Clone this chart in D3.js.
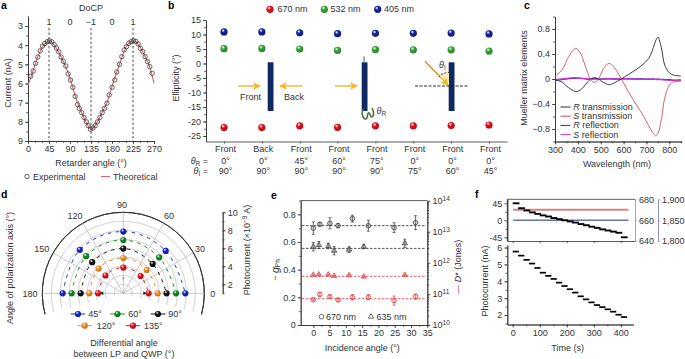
<!DOCTYPE html>
<html>
<head>
<meta charset="utf-8">
<script src="https://cdn.jsdelivr.net/npm/d3@7"></script>
<style>
  body { margin: 0; background: #fff; }
  svg text { font-family: "Liberation Sans", Arial, sans-serif; font-size: 9px; fill: #333; }
  svg .panel { font-size: 10.5px; font-weight: 700; fill: #000; }
  .axis path, .axis line { stroke: #333; stroke-width: .8; }
</style>
</head>
<body>
<svg id="fig" width="685" height="359"></svg>
<script>
// a - DoCP
const aAngle = [6, 11, 16, 21, 26, 31, 36, 41, 46, 51, 56, 61, 66, 71, 76, 81, 86, 91, 96, 101, 106, 110, 115, 120, 125, 129, 134, 139, 144, 149, 154, 159, 164, 169, 174, 180, 186, 190, 196, 201, 206, 211, 216, 221, 226, 231, 236, 241, 246, 251, 256, 261, 266];
const aExp = [5.62, 5.35, 4.95, 4.62, 4.3, 4.05, 3.92, 3.82, 3.78, 3.83, 3.97, 4.15, 4.35, 4.62, 4.85, 5.09, 5.5, 5.82, 6.2, 6.67, 7.1, 7.3, 7.52, 7.77, 8, 8.2, 8.39, 8.32, 8.2, 8, 7.77, 7.52, 7.3, 7.03, 6.6, 6.2, 5.82, 5.4, 5, 4.6, 4.25, 4.08, 3.9, 3.82, 3.77, 3.8, 3.94, 4.17, 4.34, 4.6, 4.86, 5.12, 5.47];
const aTheoryAngle = [0, 10, 20, 30, 40, 45, 50, 60, 70, 80, 90, 100, 110, 120, 130, 135, 140, 150, 160, 170, 180, 190, 200, 210, 220, 225, 230, 240, 250, 260, 270];
const aTheory = [6.1, 5.4, 4.68, 4.12, 3.85, 3.78, 3.83, 4.12, 4.58, 5.08, 5.72, 6.55, 7.25, 7.78, 8.25, 8.42, 8.3, 7.95, 7.45, 6.95, 6.15, 5.42, 4.72, 4.1, 3.83, 3.78, 3.8, 4.1, 4.55, 5.08, 6];
const aXTicks = [0, 45, 90, 135, 180, 225, 270];
const aDash = [45, 135, 225];
const aDoCPAngle = [45, 90, 135, 180, 225];
const aDoCP = ['1', '0', '−1', '0', '1'];

// b - ellipticity
const bBlue = [10.9, 10.9, 10.6, 10.3, 10.4, 10.4, 10.5, 10.2];
const bGreen = [5.1, 5.2, 5, 4.5, 4.8, 4.7, 4.7, 4.3];
const bRed = [-22.1, -22.1, -21.5, -22, -21.5, -21.5, -21.4, -21.2];
const bFace = ['Front', 'Back', 'Front', 'Front', 'Front', 'Front', 'Front', 'Front'];
const bThetaR = ['0°', '0°', '45°', '60°', '75°', '0°', '0°', '0°'];
const bThetaI = ['90°', '90°', '90°', '90°', '90°', '75°', '60°', '45°'];
const bLegend = ['670 nm', '532 nm', '405 nm'];

// c - Mueller matrix
const cWave = [300, 330, 360, 390, 410, 440, 460, 475, 490, 510, 535, 560, 590, 620, 650, 680, 710, 730, 740, 750, 765, 780, 800, 820, 850];
const cRTrans = [-0.01, -0.05, -0.14, -0.2, -0.18, -0.06, 0.01, 0.02, 0, -0.05, -0.09, -0.06, 0, 0.07, 0.14, 0.22, 0.33, 0.5, 0.61, 0.67, 0.5, 0.22, 0.1, 0.06, 0.05];
const cSTrans = [0.05, 0.14, 0.36, 0.49, 0.42, 0.13, -0.03, -0.05, 0, 0.15, 0.25, 0.18, 0, -0.2, -0.38, -0.55, -0.75, -0.87, -0.91, -0.87, -0.65, -0.3, -0.1, -0.04, -0.03];
const cRRefl = [-0.02, -0.01, 0.005, 0.01, 0.015, 0, 0, 0.01, 0, 0, 0.005, 0, 0, 0.005, 0, 0, -0.005, 0, -0.005, -0.01, -0.005, -0.01, -0.01, -0.02, -0.015];
const cSRefl = [-0.01, 0, 0.015, 0.02, 0.01, 0.005, 0, 0, -0.005, 0, 0, 0, 0.005, 0, 0, -0.005, 0, -0.005, -0.005, 0, -0.01, -0.015, -0.02, -0.025, -0.03];

// d - polar plot
const dAngle = [180, 135, 90, 45, 0];
const dDeg45 = [7.74, 7.83, 7.86, 7.66, 7.89];
const dDeg60 = [6.74, 6.84, 6.92, 6.63, 6.86];
const dDeg90 = [5.74, 5.89, 5.97, 5.61, 5.81];
const dDeg120 = [4.78, 4.88, 4.92, 4.67, 4.81];
const dDeg135 = [3.81, 3.8, 3.86, 3.72, 3.81];
const dSpokes = [0, 30, 60, 90, 120, 150, 180];
const dSpokeLabelX = [212.7, 200, 169, 122, 75, 41.7, 30];
const dSpokeLabelY = [294.3, 248.5, 216, 205, 216, 249, 294.3];
const dRings = [2, 3, 4, 5, 6, 7, 8, 9, 10];
const dRTicks = [2, 4, 6, 8, 10];

// e - g factor and detectivity
const eAngleC = [0, 2, 5.1, 7.6, 12, 16.9, 24.8, 31.4];
const eAngleT = [0, 1.7, 4.6, 6.4, 11, 15.5, 28.1];
const eGC = [0.7, 0.728, 0.735, 0.718, 0.769, 0.718, 0.704, 0.74];
const eGCErr = [0.045, 0.012, 0.04, 0.015, 0.025, 0.04, 0.035, 0.05];
const eGT = [0.566, 0.578, 0.571, 0.537, 0.545, 0.566, 0.59];
const eGTErr = [0.03, 0.025, 0.02, 0.03, 0.02, 0.015, 0.03];
const eDC = [6.5e10, 9.7e10, 8.2e10, 6.4e10, 7.8e10, 7.9e10, 6.1e10, 8.2e10];
const eDCErr = [1.08, 1.15, 1.1, 1.12, 1.22, 1.2, 1.4, 1.2];
const eDT = [4.1e11, 4.2e11, 4.2e11, 3.8e11, 4e11, 3.6e11, 4.1e11];
const eGMean = [0.718, 0.554];
const eDMean = [3.7e11, 7e10];
const eDTicks = [1e10, 1e11, 1e12, 1e13, 1e14];
const eDExp = ['10', '11', '12', '13', '14'];

// f - angle and photocurrent steps
const fStart = [0, 20, 40, 60, 80, 100, 120, 140, 160, 180, 200, 220, 240, 260, 280, 300, 320, 340, 360, 380, 400];
const fAngle = [45, 32, 26, 21, 17, 13, 10, 6, 3, 0, -3, -6, -10, -13, -17, -20, -24, -27, -30, -33, -45];
const fCurrent = [5.76, 5.52, 5.27, 5.05, 4.79, 4.51, 4.32, 4.14, 3.92, 3.72, 3.53, 3.33, 3.11, 2.93, 2.75, 2.59, 2.47, 2.34, 2.2, 2.02, 1.88];
const fTime = [0, 100, 200, 300, 400];

const svg = d3.select('#fig');
const defs = svg.append('defs');

// shiny balls
const ballCol = { red: '#e3101e', green: '#35a535', blue: '#14249e', dgreen: '#0f8a1c', black: '#111', orange: '#ee9226', dblue: '#1524c8' };
Object.entries(ballCol).forEach(([k, c]) => {
  const g = defs.append('radialGradient').attr('id', 'ball-' + k).attr('cx', '38%').attr('cy', '32%').attr('r', '70%');
  g.append('stop').attr('offset', '0%').attr('stop-color', '#fff').attr('stop-opacity', .85);
  g.append('stop').attr('offset', '35%').attr('stop-color', c);
  g.append('stop').attr('offset', '100%').attr('stop-color', d3.color(c).darker(.7));
});
const ball = (x, y, k, r = 3.6) => svg.append('circle').attr('cx', x).attr('cy', y).attr('r', r).attr('fill', `url(#ball-${k})`);

defs.append('marker').attr('id', 'head').attr('viewBox', '0 0 8 8').attr('refX', 7).attr('refY', 4)
  .attr('markerUnits', 'userSpaceOnUse').attr('markerWidth', 9).attr('markerHeight', 8).attr('orient', 'auto')
  .append('path').attr('d', 'M0,0L8,4L0,8L2,4Z').attr('fill', '#f0b92e');

function axis(maker, scale, tx, ty, major, minor, fmt, size = 3) {
  const g = svg.append('g').attr('class', 'axis').attr('transform', `translate(${tx},${ty})`);
  if (minor) g.append('g').call(maker(scale).tickValues(minor).tickSize(size * .6).tickSizeOuter(0).tickFormat(''));
  g.append('g').call(maker(scale).tickValues(major).tickSize(size).tickSizeOuter(0).tickPadding(2).tickFormat(fmt || ''));
  return g;
}
function label(x, y, s, anchor = 'middle', rot) {
  const t = svg.append('text').attr('text-anchor', anchor).attr('dominant-baseline', 'central');
  if (rot) t.attr('transform', `translate(${x},${y}) rotate(${rot})`); else t.attr('x', x).attr('y', y);
  return t.text(s);
}
[['a', 1, 5], ['b', 168, 5], ['c', 524, 5], ['d', 1, 194], ['e', 271, 195], ['f', 475, 194]].forEach(([s, x, y]) =>
  svg.append('text').attr('class', 'panel').attr('x', x).attr('y', y + 3.5).text(s));

// ---- a ----
const xA = d3.scaleLinear().domain([0, 270]).range([28, 154]);
const yA = d3.scaleLinear().domain([2.48, 9]).range([16, 141]);
axis(d3.axisBottom, xA, 0, 141, aXTicks, d3.range(0, 271, 15), d => d);
axis(d3.axisLeft, yA, 28, 0, d3.range(3, 10), d3.range(3, 9.1, .5), d => d);
aDash.forEach(d => svg.append('line').attr('x1', xA(d)).attr('x2', xA(d)).attr('y1', 28).attr('y2', 141)
  .attr('stroke', '#222').attr('stroke-width', .8).attr('stroke-dasharray', '2.5,2'));
svg.append('path').datum(aTheory)
  .attr('d', d3.line().x((d, i) => xA(aTheoryAngle[i])).y(d => yA(d)).curve(d3.curveCatmullRom))
  .attr('fill', 'none').attr('stroke', '#d9606a').attr('stroke-width', 1.1);
svg.append('g').selectAll('circle').data(aExp).join('circle')
  .attr('cx', (d, i) => xA(aAngle[i])).attr('cy', d => yA(d)).attr('r', 2.2)
  .attr('fill', 'none').attr('stroke', '#333').attr('stroke-width', .75);
aDoCP.forEach((s, i) => label(xA(aDoCPAngle[i]), 21.5, s));
label(91, 8, 'DoCP');
label(8, 83, 'Current (nA)', 'middle', -90);
label(91, 163, 'Retarder angle (°)');
svg.append('circle').attr('cx', 27).attr('cy', 176.5).attr('r', 2.2).attr('fill', 'none').attr('stroke', '#333').attr('stroke-width', .75);
label(33, 176.5, 'Experimental', 'start');
svg.append('line').attr('x1', 101).attr('x2', 110).attr('y1', 176.5).attr('y2', 176.5).attr('stroke', '#d9606a').attr('stroke-width', 1.1);
label(113, 176.5, 'Theoretical', 'start');

// ---- b ----
const xB = d3.scaleLinear().domain([-0.475, 7.475]).range([206, 507]);
const yB = d3.scaleLinear().domain([15, -25]).range([20, 136]);
axis(d3.axisBottom, xB, 0, 141.5, d3.range(8), null, null, 2);
axis(d3.axisLeft, yB.copy().domain([15, -26.9]).range([20, 141.5]), 206, 0, d3.range(15, -26, -5), d3.range(15, -26, -2.5), d => d);
label(176, 78, 'Ellipticity (°)', 'middle', -90);
[[bBlue, 'blue'], [bGreen, 'green'], [bRed, 'red']].forEach(([vals, k]) =>
  vals.forEach((v, i) => ball(xB(i), yB(v), k)));
bFace.forEach((s, i) => label(xB(i) + 1.5, 149, s));
bThetaR.forEach((s, i) => label(xB(i) + 1.5, 160.5, s));
bThetaI.forEach((s, i) => label(xB(i) + 1.5, 171.3, s));
const thLabel = (y, sub) => {
  const t = label(208, y, '', 'end');
  t.append('tspan').attr('font-style', 'italic').text('θ');
  t.append('tspan').attr('dy', 2).style('font-size', '6.5px').text(sub);
  t.append('tspan').attr('dy', -2).text(' =');
};
thLabel(160.5, 'R');
thLabel(171.3, 'I');
[[270, 277.5, 'red'], [324.3, 330.5, 'green'], [377.7, 384, 'blue']].forEach(([bx, tx, k], i) => {
  ball(bx, 9.3, k);
  label(tx, 9.3, bLegend[i], 'start');
});
// device sketches
[267.7, 361.7, 448.7].forEach(x => svg.append('rect').attr('x', x).attr('y', 62.3).attr('width', 5.8).attr('height', 48.7).attr('fill', '#0f2a63'));
const beam = (x1, y1, x2, y2) => svg.append('line').attr('x1', x1).attr('y1', y1).attr('x2', x2).attr('y2', y2)
  .attr('stroke', '#f0b92e').attr('stroke-width', 1.4).attr('marker-end', 'url(#head)');
beam(238, 86, 260, 86);
beam(302.7, 86, 280, 86);
beam(335, 86, 357, 86);
label(250.5, 96.7, 'Front');
label(294, 97.2, 'Back');
svg.append('line').attr('x1', 364).attr('x2', 364).attr('y1', 56.5).attr('y2', 62).attr('stroke', '#222').attr('stroke-width', .8);
svg.append('path').attr('d', 'M363,109C361,114 363,119 366,119C368,119 367,112 369,113C371,114 370,119 373,116C374,114 373,110 372,108')
  .attr('fill', 'none').attr('stroke', '#55703a').attr('stroke-width', 1.6);
const thR = label(376.5, 111, '', 'start');
thR.append('tspan').attr('font-style', 'italic').text('θ');
thR.append('tspan').attr('dy', 2).style('font-size', '6.5px').text('R');
svg.append('path').attr('d', 'M449,86L438.5,77A14,14 0 0 1 449,72.5Z').attr('fill', '#fbe9b8');
beam(425, 61.3, 448, 85);
svg.append('line').attr('x1', 425).attr('y1', 61.3).attr('x2', 438).attr('y2', 74.8).attr('stroke', '#dd5a2c').attr('stroke-width', .9);
svg.append('path').attr('d', 'M438.5,77A14,14 0 0 1 449,72.5').attr('fill', 'none').attr('stroke', '#111').attr('stroke-width', .8).attr('stroke-dasharray', '2,1.5');
svg.append('line').attr('x1', 415).attr('x2', 467.5).attr('y1', 86).attr('y2', 86).attr('stroke', '#111').attr('stroke-width', .9).attr('stroke-dasharray', '3,1.5');
const thI = label(439, 64.5, '', 'start');
thI.append('tspan').attr('font-style', 'italic').text('θ');
thI.append('tspan').attr('dy', 2).style('font-size', '6.5px').text('I');

// ---- c ----
const xC = d3.scaleLinear().domain([300, 854]).range([555, 681.7]);
const yC = d3.scaleLinear().domain([-1, 1]).range([141.5, 16.5]);
axis(d3.axisBottom, xC, 0, 141.5, d3.range(300, 801, 100), d3.range(300, 851, 50), d => d);
axis(d3.axisLeft, yC, 555, 0, [-0.8, -0.4, 0, 0.4, 0.8], d3.range(-1, 1.01, .2).map(d => +d.toFixed(1)), d3.format('.1~f'));
const lineC = d3.line().x((d, i) => xC(cWave[i])).y(d => yC(d)).curve(d3.curveCatmullRom);
[[cRRefl, '#3a2aa0', 1.3], [cSRefl, '#c935d6', 1.3], [cRTrans, '#2a2a2a', .9], [cSTrans, '#d2505f', .9]].forEach(([v, c, w]) =>
  svg.append('path').datum(v).attr('d', lineC).attr('fill', 'none').attr('stroke', c).attr('stroke-width', w));
[['R', ' transmission', '#2a2a2a', 107], ['S', ' transmission', '#d2505f', 116.2], ['R', ' reflection', '#3a2aa0', 125.4], ['S', ' reflection', '#c935d6', 134.6]].forEach(([a, b, c, y]) => {
  svg.append('line').attr('x1', 560.5).attr('x2', 570.5).attr('y1', y).attr('y2', y).attr('stroke', c).attr('stroke-width', 1);
  const t = label(573.3, y, '', 'start');
  t.append('tspan').attr('font-style', 'italic').text(a);
  t.append('tspan').text(b);
});
label(617, 164, 'Wavelength (nm)');
label(524, 78, 'Mueller matrix elements', 'middle', -90);

// ---- d ----
const cx = 123.3, cy = 293.3;
const rD = d3.scaleLinear().domain([1, 10]).range([0, 81]);
const aD = d3.scaleLinear().domain([0, 180]).range([Math.PI / 2, -Math.PI / 2]);
const gD = svg.append('g').attr('transform', `translate(${cx},${cy})`);
const arcD = d3.arc().startAngle(-105 * Math.PI / 180).endAngle(105 * Math.PI / 180);
dRings.forEach(v => gD.append('path').attr('d', arcD({ innerRadius: rD(v), outerRadius: rD(v) }))
  .attr('fill', 'none').attr('stroke', v === 10 ? '#333' : '#d4d4d4').attr('stroke-width', v === 10 ? 1 : .7));
dSpokes.forEach(a => gD.append('line')
  .attr('x2', rD(10) * Math.cos(a * Math.PI / 180)).attr('y2', -rD(10) * Math.sin(a * Math.PI / 180))
  .attr('stroke', '#b4b4b4').attr('stroke-width', .7));
svg.append('rect').attr('x', 62).attr('y', 307).attr('width', 122).attr('height', 27).attr('fill', '#fff');
// centre arrows
[-1, 1].forEach(s => gD.append('path').attr('d', `M${s * 24},0L${s * 20},-1.8L${s * 20},1.8Z`).attr('fill', '#222'));
gD.append('path').attr('d', 'M0,-17L-1.2,-14L1.2,-14Z').attr('fill', '#999');
const lineD = d3.lineRadial().angle((d, i) => aD(dAngle[i])).radius(d => rD(d)).curve(d3.curveCardinal.tension(-.125));
const dSeries = [[dDeg45, '#1c2ccc', 'dblue', '45°', 78, 314, 88.3], [dDeg60, '#108a1e', 'dgreen', '60°', 117.5, 314, 128.3], [dDeg90, '#111', 'black', '90°', 158, 314, 168.3], [dDeg120, '#ee9226', 'orange', '120°', 84.7, 325.7, 96.7], [dDeg135, '#e3101e', 'red', '135°', 133, 325.7, 144]];
dSeries.forEach(([vals, c, k, txt, lx, ly, tx]) => {
  gD.append('path').datum(vals).attr('d', lineD).attr('fill', 'none').attr('stroke', c).attr('stroke-width', .95).attr('stroke-dasharray', '3.5,4.5');
  vals.forEach((v, i) => {
    const a = dAngle[i] * Math.PI / 180;
    ball(cx + rD(v) * Math.cos(a), cy - rD(v) * Math.sin(a), k, 3.1);
  });
  svg.append('line').attr('x1', lx - 7.3).attr('x2', lx + 7.3).attr('y1', ly).attr('y2', ly).attr('stroke', c).attr('stroke-width', 1);
  ball(lx, ly, k, 3.1);
  label(tx, ly, txt, 'start');
});
dSpokes.forEach((a, i) => label(dSpokeLabelX[i], dSpokeLabelY[i], a));
const rAxis = d3.scaleLinear().domain([1, 10]).range([293.3, 212.3]);
axis(d3.axisRight, rAxis, 222.7, 0, dRTicks, d3.range(1, 11), d => d);
label(9.5, 268, 'Angle of polarization axis (°)', 'middle', -90);
const dLab = label(246.5, 250, '', 'middle', -90);
dLab.append('tspan').text('Photocurrent (×10');
dLab.append('tspan').attr('dy', -2.5).style('font-size', '6.5px').text('−9');
dLab.append('tspan').attr('dy', 2.5).text(' A)');
label(124, 342.7, 'Differential angle');
label(124, 354, 'between LP and QWP (°)');

// ---- e ----
const xE = d3.scaleLinear().domain([-3.87, 35]).range([300.7, 427.3]);
const yE = d3.scaleLinear().domain([0, 0.9]).range([325, 200.5]);
const yD = d3.scaleLog().domain([1e10, 1e14]).range([325, 200.7]);
axis(d3.axisBottom, xE, 0, 325, d3.range(0, 36, 5), d3.range(0, 36, 2.5), d => d);
axis(d3.axisLeft, yE, 300.7, 0, [0, 0.2, 0.4, 0.6, 0.8], d3.range(0, .91, .1).map(d => +d.toFixed(1)), d => d === 0 ? '0' : d3.format('.1f')(d));
const logMinor = d3.range(10, 14).flatMap(p => [2, 3, 4, 5, 6, 7, 8, 9].map(m => m * Math.pow(10, p)));
axis(d3.axisRight, yD, 427.3, 0, eDTicks, logMinor, null);
eDTicks.forEach((v, i) => {
  const t = label(432.5, yD(v), '', 'start');
  t.append('tspan').text('10');
  t.append('tspan').attr('dy', -3).style('font-size', '6.5px').text(eDExp[i]);
});
svg.append('line').attr('x1', 300.7).attr('x2', 427.3).attr('y1', 200.6).attr('y2', 200.6).attr('stroke', '#333').attr('stroke-width', .8);
const hDash = (y, c) => svg.append('line').attr('x1', 302).attr('x2', 426).attr('y1', y).attr('y2', y)
  .attr('stroke', c).attr('stroke-width', .8).attr('stroke-dasharray', '2.5,1.5');
eGMean.forEach(v => hDash(yE(v), '#222'));
eDMean.forEach(v => hDash(yD(v), '#d9363e'));
const circE = d3.symbol(d3.symbolCircle, 17), triE = d3.symbol(d3.symbolTriangle, 12);
function pointsE(xs, ys, lo, hi, sym, c, fill) {
  const log = ys === eDC || ys === eDT;
  const yy = log ? yD : yE;
  ys.forEach((v, i) => {
    const x = xE(xs[i]), y0 = yy(lo[i]), y1 = yy(hi[i]), y = yy(v);
    svg.append('path').attr('d', `M${x},${y0}L${x},${y1}M${x - 1.5},${y0}L${x + 1.5},${y0}M${x - 1.5},${y1}L${x + 1.5},${y1}`)
      .attr('fill', 'none').attr('stroke', c).attr('stroke-width', .7);
    svg.append('path').attr('d', sym).attr('transform', `translate(${x},${y})`)
      .attr('fill', fill).attr('stroke', c).attr('stroke-width', .7);
  });
}
pointsE(eAngleC, eGC, eGC.map((d, i) => d - eGCErr[i]), eGC.map((d, i) => d + eGCErr[i]), circE, '#333', 'rgba(130,130,130,.35)');
pointsE(eAngleT, eGT, eGT.map((d, i) => d - eGTErr[i]), eGT.map((d, i) => d + eGTErr[i]), triE, '#333', 'rgba(130,130,130,.5)');
pointsE(eAngleC, eDC, eDC.map((d, i) => d / eDCErr[i]), eDC.map((d, i) => d * eDCErr[i]), circE, '#d9363e', 'rgba(240,120,120,.25)');
pointsE(eAngleT, eDT, eDT.map(d => d / 1.05), eDT.map(d => d * 1.05), triE, '#d9363e', 'rgba(240,120,120,.4)');
svg.append('path').attr('d', circE).attr('transform', 'translate(321.5,316.7)').attr('fill', 'none').attr('stroke', '#333').attr('stroke-width', .7);
label(326, 316.7, '670 nm', 'start');
svg.append('path').attr('d', triE).attr('transform', 'translate(371,316.7)').attr('fill', 'none').attr('stroke', '#333').attr('stroke-width', .7);
label(376.5, 316.7, '635 nm', 'start');
label(362.3, 347.7, 'Incidence angle (°)');
const gLab = label(275, 270, '', 'middle', -90);
gLab.append('tspan').text('− ');
gLab.append('tspan').attr('font-style', 'italic').style('font-size', '10.5px').text('g');
gLab.append('tspan').attr('dy', 2).style('font-size', '6.5px').text('Ph');
const dsLab = label(458, 266.7, '', 'middle', -90);
dsLab.append('tspan').style('fill', '#d9363e').text('— ');
dsLab.append('tspan').attr('font-style', 'italic').text('D');
dsLab.append('tspan').text('* (Jones)');

// ---- f ----
const xF = d3.scaleLinear().domain([-20, 446]).range([507.3, 633.3]);
const yF1 = d3.scaleLinear().domain([-54.8, 55.6]).range([241, 199.3]);
const yF2 = d3.scaleLinear().domain([1.44, 6.15]).range([324.5, 245]);
const yRed = d3.scaleLinear().domain([640, 680]).range([241, 199.3]);
const yBlue = d3.scaleLinear().domain([1800, 1900]).range([241, 199.3]);
svg.append('path').attr('d', 'M507.3,241L507.3,199.3L635,199.3').attr('fill', 'none').attr('stroke', '#333').attr('stroke-width', .8);
axis(d3.axisBottom, xF.copy().domain([-20, 453]).range([507.3, 635]), 0, 241, fTime, null, null, 2);
axis(d3.axisLeft, yF1, 507.3, 0, [45, 0, -45], [22.5, -22.5], d => d);
axis(d3.axisBottom, xF, 0, 324.5, fTime, d3.range(0, 401, 50), d => d);
axis(d3.axisLeft, yF2, 507.3, 0, [2, 3, 4, 5, 6], d3.range(1.5, 6.1, .5), d => d);
const redAxis = axis(d3.axisRight, yRed, 635, 0, [640, 660, 680], [650, 670], d => d, 2);
redAxis.selectAll('path,line').style('stroke', '#d88c8c');
const blueAxis = axis(d3.axisRight, yBlue, 658, 0, [1800, 1850, 1900], [1825, 1875], d3.format(','), 2);
blueAxis.selectAll('path,line').style('stroke', '#8a8ad4');
svg.append('line').attr('x1', xF(2)).attr('x2', xF(428)).attr('y1', yRed(670)).attr('y2', yRed(670)).attr('stroke', '#cf8686').attr('stroke-width', 2.2);
svg.append('line').attr('x1', xF(2)).attr('x2', xF(428)).attr('y1', yBlue(1850)).attr('y2', yBlue(1850)).attr('stroke', '#1a2a80').attr('stroke-width', 1);
svg.append('g').selectAll('line').data(fAngle).join('line')
  .attr('x1', (d, i) => xF(fStart[i])).attr('x2', (d, i) => xF(fStart[i] + 25))
  .attr('y1', d => yF1(d)).attr('y2', d => yF1(d)).attr('stroke', '#000').attr('stroke-width', 1.9);
svg.append('g').selectAll('line').data(fCurrent).join('line')
  .attr('x1', (d, i) => xF(fStart[i])).attr('x2', (d, i) => xF(fStart[i] + 23))
  .attr('y1', d => yF2(d)).attr('y2', d => yF2(d)).attr('stroke', '#000').attr('stroke-width', 1.7);
label(485, 281, 'Photocurrent (nA)', 'middle', -90);
label(567.7, 347.7, 'Time (s)');
</script>
</body>
</html>
